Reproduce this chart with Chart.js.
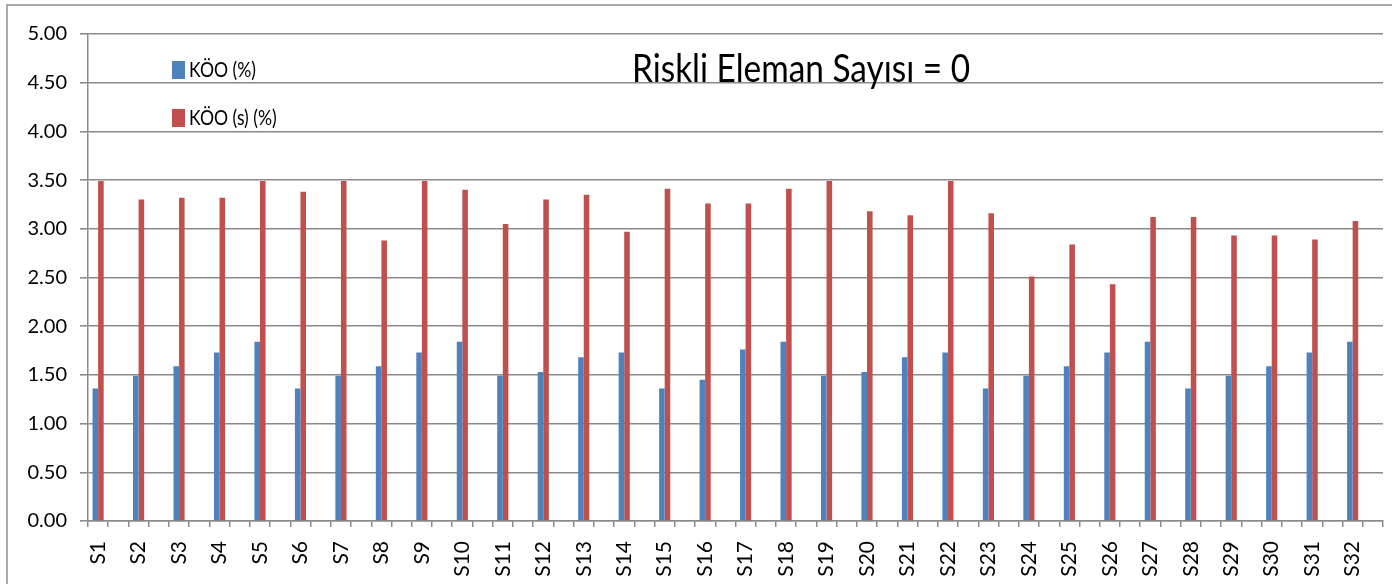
<!DOCTYPE html>
<html>
<head>
<meta charset="utf-8">
<script src="https://cdn.jsdelivr.net/npm/chart.js@4.4.1/dist/chart.umd.min.js"></script>
<style>
  body { margin: 0; background: #fff; }
  #wrap { position: relative; width: 1392px; height: 584px; }
</style>
</head>
<body>
<div id="wrap"><canvas id="myChart"></canvas></div>
<script>
const categories = ['S1', 'S2', 'S3', 'S4', 'S5', 'S6', 'S7', 'S8', 'S9', 'S10',
    'S11', 'S12', 'S13', 'S14', 'S15', 'S16', 'S17', 'S18', 'S19', 'S20',
    'S21', 'S22', 'S23', 'S24', 'S25', 'S26', 'S27', 'S28', 'S29', 'S30', 'S31', 'S32'];

const koo = [1.36, 1.49, 1.59, 1.73, 1.84, 1.36, 1.49, 1.59, 1.73, 1.84,
    1.49, 1.53, 1.68, 1.73, 1.36, 1.45, 1.76, 1.84, 1.49, 1.53,
    1.68, 1.73, 1.36, 1.49, 1.59, 1.73, 1.84, 1.36, 1.49, 1.59, 1.73, 1.84];

const kooS = [3.49, 3.30, 3.32, 3.32, 3.49, 3.38, 3.49, 2.88, 3.49, 3.40,
    3.05, 3.30, 3.35, 2.97, 3.41, 3.26, 3.26, 3.41, 3.49, 3.18,
    3.14, 3.49, 3.16, 2.51, 2.84, 2.43, 3.12, 3.12, 2.93, 2.93, 2.89, 3.08];

const seriesNames = ['KÖO (%)', 'KÖO (s) (%)'];
const titleText = 'Riskli Eleman Sayısı = 0';

// the original sheet has an empty row after every S, so each S gets a blank slot
function spread(arr, blank) {
    const out = [];
    arr.forEach(v => { out.push(v); out.push(blank); });
    return out;
}

const gridColor = '#8a8a8a';

const frameAndText = {
    id: 'frameAndText',
    beforeDraw(chart) {
        const c = chart.ctx;
        c.save();
        c.strokeStyle = '#8f8f8f';
        c.lineWidth = 1.5;
        c.beginPath();
        c.moveTo(7, chart.height);
        c.lineTo(7, 5);
        c.lineTo(chart.width, 5);
        c.stroke();
        c.restore();
    },
    afterDraw(chart) {
        const c = chart.ctx;
        c.save();
        c.fillStyle = '#000';
        c.textBaseline = 'alphabetic';

        // title sits inside the plot
        c.font = '39px Lato';
        let sx = 338 / c.measureText(titleText).width;
        c.save();
        c.translate(632, 82);
        c.scale(sx, 1);
        c.fillText(titleText, 0, 0);
        c.restore();

        // legend, stacked, top left of the plot
        c.font = '22px Lato';
        sx = 67 / c.measureText(seriesNames[0]).width;
        chart.data.datasets.forEach((ds, i) => {
            const y = 61 + i * 48;
            c.fillStyle = ds.backgroundColor;
            c.fillRect(172, y, 13, 18);
            c.fillStyle = '#000';
            c.save();
            c.translate(189, y + 16);
            c.scale(sx, 1);
            c.fillText(ds.label, 0, 0);
            c.restore();
        });
        c.restore();
    }
};

const ctx = document.getElementById('myChart');

new Chart(ctx, {
    type: 'bar',
    data: {
        labels: spread(categories, ''),
        datasets: [{
            label: seriesNames[0],
            data: spread(koo, null),
            backgroundColor: '#4F81BD'
        }, {
            label: seriesNames[1],
            data: spread(kooS, null),
            backgroundColor: '#C0504D'
        }]
    },
    options: {
        responsive: true,
        maintainAspectRatio: false,
        animation: false,
        layout: { padding: { top: 34, right: 9, left: 0, bottom: 0 } },
        datasets: {
            bar: { categoryPercentage: 0.55, barPercentage: 1.0 }
        },
        plugins: {
            legend: { display: false },
            title: { display: false },
            tooltip: { enabled: false }
        },
        scales: {
            x: {
                afterFit(scale) {
                    scale.height = 63;
                    scale.paddingLeft = 0;
                    scale.paddingRight = 0;
                },
                grid: {
                    offset: true,
                    drawOnChartArea: false,
                    drawTicks: true,
                    tickLength: 6,
                    color: gridColor,
                    lineWidth: 1.5
                },
                border: { display: true, color: gridColor, width: 1.5 },
                ticks: {
                    autoSkip: false,
                    maxRotation: 90,
                    minRotation: 90,
                    padding: 14,
                    color: '#000',
                    font: { family: 'Lato', size: 21 }
                }
            },
            y: {
                min: 0,
                max: 5,
                afterFit(scale) { scale.width = 88; },
                grid: {
                    color: gridColor,
                    lineWidth: 1.6,
                    drawTicks: true,
                    tickLength: 8
                },
                border: { display: true, color: gridColor, width: 1.5 },
                ticks: {
                    stepSize: 0.5,
                    padding: 13,
                    color: '#000',
                    font: { family: 'Lato', size: 20 },
                    callback: v => v.toFixed(2)
                }
            }
        }
    },
    plugins: [frameAndText]
});
</script>
</body>
</html>
